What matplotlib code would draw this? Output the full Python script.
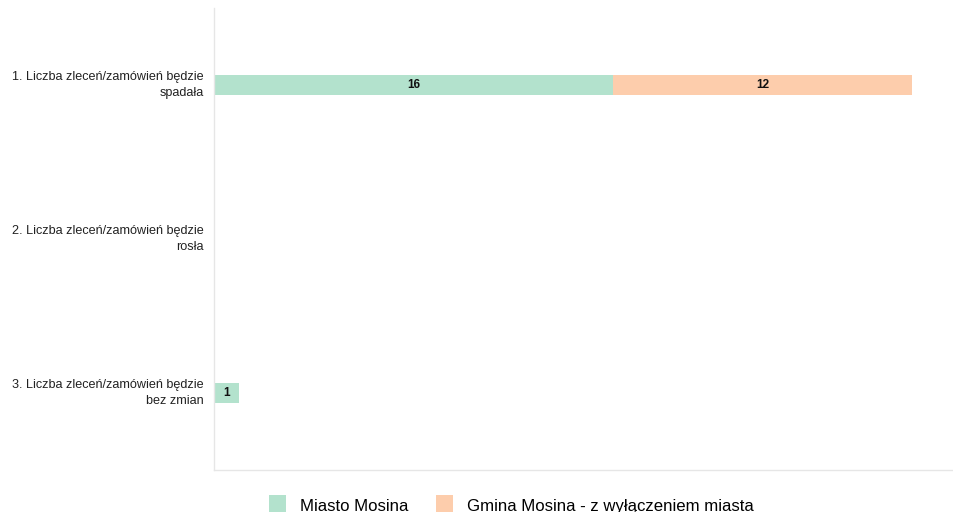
import matplotlib
matplotlib.use("Agg")
import matplotlib.pyplot as plt

plt.rcParams['font.family'] = ['Liberation Sans', 'DejaVu Sans']

categories = ["1. Liczba zleceń/zamówień będzie\nspadała",
              "2. Liczba zleceń/zamówień będzie\nrosła",
              "3. Liczba zleceń/zamówień będzie\nbez zmian"]
series_names = ["Miasto Mosina", "Gmina Mosina - z wyłączeniem miasta"]
miasto = [16, 0, 1]
gmina = [12, 0, 0]
colors = ["#b3e2cd", "#fdcdac"]

fig = plt.figure(figsize=(9.54, 5.12), dpi=100)
ax = fig.add_axes([214/954, (512-470)/512, (954-214)/954, (470-8)/512])

y = list(range(len(categories)))
left = [0]*len(categories)
for vals, name, c in zip([miasto, gmina], series_names, colors):
    bars = ax.barh(y, vals, left=left, height=0.13, color=c, label=name)
    for b, v, l in zip(bars, vals, left):
        if v > 0:
            ax.text(l + v/2, b.get_y() + b.get_height()/2, str(v),
                    ha='center', va='center', fontsize=8.5, fontweight='bold', color='#111111')
    left = [a + b for a, b in zip(left, vals)]

ax.set_ylim(2.5, -0.5)
ax.set_xlim(0, 29.67)
ax.set_yticks(y)
ax.set_yticklabels(categories, fontsize=9.1, ha='right', color='#222222', linespacing=1.45)
for t in ax.get_yticklabels():
    t.set_va('center')
ax.tick_params(axis='y', length=0, pad=7.2)
ax.set_xticks([])
for s in ['top', 'right']:
    ax.spines[s].set_visible(False)
for s in ['left', 'bottom']:
    ax.spines[s].set_color('#e6e6e6')
    ax.spines[s].set_linewidth(1)

handles, labels = ax.get_legend_handles_labels()
fig.legend(handles, labels, loc='lower center', bbox_to_anchor=(0.536, -0.035),
           ncol=2, frameon=False, fontsize=12.1, handlelength=1.0, handleheight=1.4,
           columnspacing=1.65, handletextpad=0.85)

fig.savefig("out.png", dpi=100)
